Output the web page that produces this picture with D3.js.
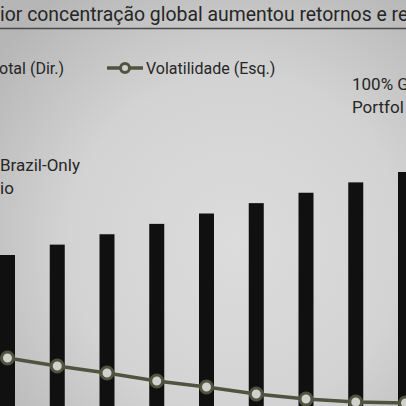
<!DOCTYPE html>
<html>
<head>
<meta charset="utf-8">
<script src="https://cdn.jsdelivr.net/npm/d3@7"></script>
<style>
  html, body { margin: 0; padding: 0; overflow: hidden; }
  text { font-family: Roboto, "Noto Sans", sans-serif; fill: #262626; }
</style>
</head>
<body>
<div id="chart"></div>
<script>
// categories (visible slice of the chart)
const categories = ["c1", "c2", "c3", "c4", "c5", "c6", "c7", "c8", "c9"];
// total return (right axis)
const retornoTotal = [10.0, 10.5, 11.0, 11.5, 12.0, 12.5, 13.0, 13.5, 14.0];
// volatility (left axis)
const volatilidade = [25.0, 24.2, 23.5, 22.7, 22.1, 21.4, 20.9, 20.6, 20.5];

const titleText = "ior concentração global aumentou retornos e re";
const legendLabels = ["otal (Dir.)", "Volatilidade (Esq.)"];
const leftNote = ["Brazil-Only", "io"];
const rightNote = ["100% G", "Portfol"];

const width = 406, height = 406;
const olive = "#50543f";

const svg = d3.select("#chart").append("svg")
    .attr("width", width)
    .attr("height", height);

// background, lighter in the middle
const defs = svg.append("defs");
const grad = defs.append("radialGradient")
    .attr("id", "bg")
    .attr("cx", "58%").attr("cy", "60%").attr("r", "75%");
grad.append("stop").attr("offset", "0%").attr("stop-color", "#dcdcdc");
grad.append("stop").attr("offset", "55%").attr("stop-color", "#d3d3d3");
grad.append("stop").attr("offset", "100%").attr("stop-color", "#b6b6b6");
svg.append("rect")
    .attr("width", width).attr("height", height)
    .attr("fill", "url(#bg)");

// scales
const x = d3.scalePoint()
    .domain(categories)
    .range([7.5, 405.5]);
const yRet = d3.scaleLinear()
    .domain([0, 14])
    .range([462.5, 172]);
const yVol = d3.scaleLinear()
    .domain([0, 25])
    .range([608, 358]);
const barWidth = 15;

// bars
svg.selectAll(".bar")
    .data(retornoTotal)
    .enter().append("rect")
    .attr("class", "bar")
    .attr("x", (d, i) => x(categories[i]) - barWidth / 2)
    .attr("y", d => yRet(d))
    .attr("width", barWidth)
    .attr("height", d => yRet(0) - yRet(d))
    .attr("fill", "#101010");

// volatility line
const line = d3.line()
    .x((d, i) => x(categories[i]))
    .y(d => yVol(d));
svg.append("path")
    .datum(volatilidade)
    .attr("d", line)
    .attr("fill", "none")
    .attr("stroke", olive)
    .attr("stroke-width", 3.5);

svg.selectAll(".dot")
    .data(volatilidade)
    .enter().append("circle")
    .attr("class", "dot")
    .attr("cx", (d, i) => x(categories[i]))
    .attr("cy", d => yVol(d))
    .attr("r", 6)
    .attr("fill", "#d0d0cc")
    .attr("stroke", olive)
    .attr("stroke-width", 3);

// title and rule
svg.append("text")
    .attr("x", 0)
    .attr("y", 21)
    .style("font-size", "19.4px")
    .text(titleText);
svg.append("line")
    .attr("x1", 0).attr("x2", width)
    .attr("y1", 28.5).attr("y2", 28.5)
    .attr("stroke", "#4a4a4a")
    .attr("stroke-width", 1.5);

// legend
const legend = svg.append("g");
legend.append("text")
    .attr("x", -1)
    .attr("y", 74)
    .style("font-size", "16px")
    .text(legendLabels[0]);
legend.append("line")
    .attr("x1", 107).attr("x2", 143)
    .attr("y1", 68).attr("y2", 68)
    .attr("stroke", olive)
    .attr("stroke-width", 3.5);
legend.append("circle")
    .attr("cx", 125).attr("cy", 68)
    .attr("r", 4.5)
    .attr("fill", "#cfcfcb")
    .attr("stroke", olive)
    .attr("stroke-width", 3);
legend.append("text")
    .attr("x", 146)
    .attr("y", 74)
    .style("font-size", "16px")
    .text(legendLabels[1]);

// annotations
svg.selectAll(".leftNote")
    .data(leftNote)
    .enter().append("text")
    .attr("class", "leftNote")
    .attr("x", 0)
    .attr("y", (d, i) => 171 + i * 22.5)
    .style("font-size", "17px")
    .text(d => d);
svg.selectAll(".rightNote")
    .data(rightNote)
    .enter().append("text")
    .attr("class", "rightNote")
    .attr("x", 352)
    .attr("y", (d, i) => 90 + i * 22.5)
    .style("font-size", "17px")
    .text(d => d);
</script>
</body>
</html>
